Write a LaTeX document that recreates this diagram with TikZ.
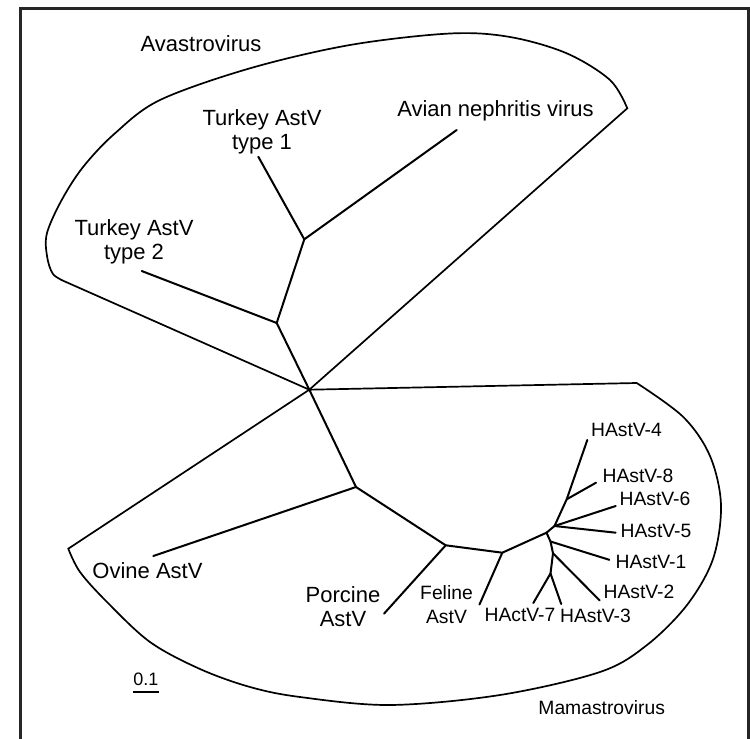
\documentclass[tikz,border=0pt]{standalone}
\usepackage{fontspec}
\setmainfont{Liberation Sans}
\begin{document}
\begin{tikzpicture}[x=0.5pt,y=-0.5pt,
  branch/.style={line width=1pt, line cap=round, line join=round},
  hull/.style={line width=0.85pt, line join=miter},
  big/.style={font=\fontsize{11}{12.2}\selectfont, inner sep=0pt, align=center},
  small/.style={font=\fontsize{9.65}{12}\selectfont, inner sep=0pt, align=center},
  tiny/.style={font=\fontsize{9}{11}\selectfont, inner sep=0pt}]
\useasboundingbox (0,0) rectangle (750,739);
\begin{scope}
  \clip (0,0) rectangle (750,739);
  \draw[line width=1.2pt, black!85] (20.5,8.5) rectangle (748.5,770);
\end{scope}

% tree coordinates
\coordinate (C) at (309.3,389.7);
\coordinate (A) at (276.7,323);
\coordinate (B) at (304.3,239.3);
\coordinate (T1) at (258.3,156.7);
\coordinate (AN) at (456.7,130);
\coordinate (T2) at (141.7,271);
\coordinate (D) at (356,487);
\coordinate (Ov) at (153.3,556);
\coordinate (E) at (445.7,545.3);
\coordinate (Po) at (384,613.7);
\coordinate (F) at (502.3,552.7);
\coordinate (Fe) at (479.5,604.5);
\coordinate (G) at (546.5,532.7);
\coordinate (H) at (554.5,526);
\coordinate (I) at (566.7,499.3);
\coordinate (h4) at (587.3,440);
\coordinate (h8) at (596,482.7);
\coordinate (h6) at (615.7,506);
\coordinate (h5) at (615.7,532.7);
\coordinate (J) at (550.5,541.5);
\coordinate (h1) at (609.3,559.8);
\coordinate (K) at (553,553.3);
\coordinate (h2) at (599.7,600.5);
\coordinate (L) at (550.5,573.5);
\coordinate (h7) at (533.3,603);
\coordinate (h3) at (561.2,604);

% hulls
\draw[hull] (C) -- plot[smooth, tension=0.55] coordinates {(66,282) (53,274) (47,256) (47,233) (61.7,200) (83.3,166.7) (115,133.3) (160,100) (250,68.3) (350,45) (450,33.5) (510,37) (566.7,53.3) (610,80) (627.3,108.3)} -- cycle;
\draw[hull] (C) -- plot[smooth, tension=0.55] coordinates {(636.7,383) (683.3,417) (710,456) (721,505) (713,559) (687,605) (647,645) (600,672) (500,695) (390,705) (300,697) (250,687) (200,669) (150,642) (107,602) (80,572) (68.3,548.7)} -- cycle;

% branches
\draw[branch] (C) -- (A);
\draw[branch] (A) -- (T2);
\draw[branch] (A) -- (B);
\draw[branch] (B) -- (T1);
\draw[branch] (B) -- (AN);
\draw[branch] (C) -- (D);
\draw[branch] (D) -- (Ov);
\draw[branch] (D) -- (E);
\draw[branch] (E) -- (Po);
\draw[branch] (E) -- (F);
\draw[branch] (F) -- (Fe);
\draw[branch] (F) -- (G);
\draw[branch] (G) -- (H);
\draw[branch] (H) -- (I);
\draw[branch] (I) -- (h4);
\draw[branch] (I) -- (h8);
\draw[branch] (H) -- (h6);
\draw[branch] (H) -- (h5);
\draw[branch] (G) -- (J);
\draw[branch] (J) -- (h1);
\draw[branch] (J) -- (K);
\draw[branch] (K) -- (h2);
\draw[branch] (K) -- (L);
\draw[branch] (L) -- (h7);
\draw[branch] (L) -- (h3);

% labels
\node[big, anchor=base] (lav) at (201,51.7) {Avastrovirus};
\node[big, anchor=base] (lan) at (495.5,116.7) {Avian nephritis virus};
\node[big, anchor=north] (lt1) at (262,109.2) {Turkey AstV\\type 1};
\node[big, anchor=north] (lt2) at (134,219.2) {Turkey AstV\\type 2};
\node[big, anchor=base] (lov) at (147.5,578) {Ovine AstV};
\node[big, anchor=north] (lpo) at (343,586.2) {Porcine\\AstV};
\node[small, anchor=north] (lfe) at (446.5,584.9) {Feline\\AstV};
\node[small, anchor=base] (l7) at (520,621.7) {HActV-7};
\node[small, anchor=base] (l3) at (595.5,622) {HAstV-3};
\node[small, anchor=base] (l4) at (626.5,436.3) {HAstV-4};
\node[small, anchor=base] (l8) at (638,482) {HAstV-8};
\node[small, anchor=base] (l6) at (655,505) {HAstV-6};
\node[small, anchor=base] (l5) at (656,537) {HAstV-5};
\node[small, anchor=base] (l1) at (651,568) {HAstV-1};
\node[small, anchor=base] (l2) at (639,598) {HAstV-2};
\node[small, anchor=base] (lma) at (601.7,714.7) {Mamastrovirus};
\node[tiny, anchor=base] (sb) at (145.8,685.3) {0.1};
\draw[line width=0.85pt] ([yshift=-3.3pt]sb.base west) -- ([yshift=-3.3pt]sb.base east);
\end{tikzpicture}
\end{document}
